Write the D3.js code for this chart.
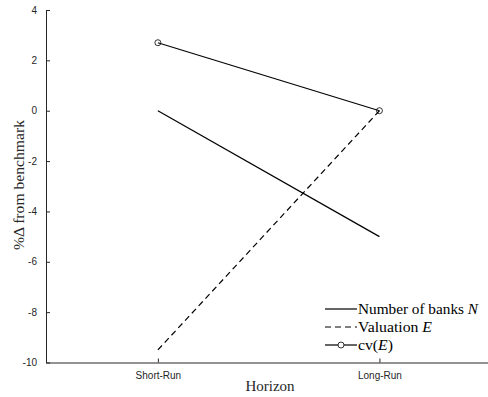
<!DOCTYPE html>
<html><head><meta charset="utf-8">
<script src="https://cdn.jsdelivr.net/npm/d3@7"></script>
<style>body{margin:0;background:#fff}svg{display:block}</style>
</head><body>
<svg id="c" width="488" height="397"></svg>
<script>
const categories = ["Short-Run", "Long-Run"];
const banksN = [0, -5.0];
const valuationE = [-9.5, 0];
const cvE = [2.7, 0];
const yTicks = [4, 2, 0, -2, -4, -6, -8, -10];
const legendLabels = [["Number of banks ", "N", ""], ["Valuation ", "E", ""], ["cv(", "E", ")"]];

const svg = d3.select("#c");
const x = d3.scaleLinear().domain([0.495, 2.49]).range([46, 488]);
const y = d3.scaleLinear().domain([-10, 4]).range([362.5, 10]);
const axisColor = "#262626";
const serif = "Liberation Serif, Times New Roman, serif";

// y axis
const ya = svg.append("g").attr("transform", "translate(46,0)")
  .call(d3.axisLeft(y).tickValues(yTicks).tickSizeInner(-4).tickSizeOuter(0).tickPadding(9).tickFormat((d) => String(d)));
ya.select(".domain").attr("stroke", axisColor);
ya.selectAll(".tick line").attr("stroke", axisColor);
ya.selectAll(".tick text").attr("fill", axisColor).attr("font-family", "Liberation Sans, Arial, sans-serif").attr("font-size", 10);

// x axis
const xa = svg.append("g").attr("transform", "translate(0,362.5)")
  .call(d3.axisBottom(x).tickValues([1, 2]).tickSizeInner(-4).tickSizeOuter(0).tickPadding(9).tickFormat((d) => categories[d - 1]));
xa.select(".domain").attr("stroke", axisColor);
xa.selectAll(".tick line").attr("stroke", axisColor);
xa.selectAll(".tick text").attr("fill", axisColor).attr("font-family", "Liberation Sans, Arial, sans-serif").attr("font-size", 10);

// axis labels
svg.append("text").attr("x", 270).attr("y", 391).attr("text-anchor", "middle")
  .attr("font-family", serif).attr("font-size", 15).attr("fill", axisColor).text("Horizon");
const yl = svg.append("text").attr("transform", "translate(24,185) rotate(-90)").attr("text-anchor", "middle")
  .attr("font-family", serif).attr("font-size", 15).attr("fill", axisColor).text("%\u0394 from benchmark");
yl.attr("textLength", 130).attr("lengthAdjust", "spacingAndGlyphs");

const line = d3.line().x((d, i) => x(i + 1)).y((d) => y(d));
svg.append("path").datum(banksN).attr("d", line).attr("fill", "none").attr("stroke", "#000").attr("stroke-width", 1.2);
svg.append("path").datum(valuationE).attr("d", line).attr("fill", "none").attr("stroke", "#000").attr("stroke-width", 1.2).attr("stroke-dasharray", "6,4");
svg.append("path").datum(cvE).attr("d", line).attr("fill", "none").attr("stroke", "#000").attr("stroke-width", 1.2);
svg.selectAll("circle.cv").data(cvE).enter().append("circle").attr("class", "cv")
  .attr("cx", (d, i) => x(i + 1)).attr("cy", (d) => y(d)).attr("r", 3).attr("fill", "none").attr("stroke", "#000").attr("stroke-width", 0.8);

// legend
const legendWidths = [120, 74, 35];
const lg = svg.append("g");
[0, 1, 2].forEach((r) => {
  const yy = 309 + r * 18;
  const l = lg.append("line").attr("x1", 325).attr("x2", 357).attr("y1", yy).attr("y2", yy).attr("stroke", "#000").attr("stroke-width", 1.2);
  if (r === 1) l.attr("stroke-dasharray", "6,4");
  if (r === 2) lg.append("circle").attr("cx", 341).attr("cy", yy).attr("r", 3).attr("fill", "#fff").attr("stroke", "#000").attr("stroke-width", 0.8);
  const t = lg.append("text").attr("x", 358).attr("y", yy + 5).attr("font-family", serif).attr("font-size", 15).attr("fill", "#000");
  t.append("tspan").text(legendLabels[r][0]);
  t.append("tspan").attr("font-style", "italic").text(legendLabels[r][1]);
  t.append("tspan").text(legendLabels[r][2]);
  t.attr("textLength", legendWidths[r]).attr("lengthAdjust", "spacingAndGlyphs");
});
</script>
</body></html>
